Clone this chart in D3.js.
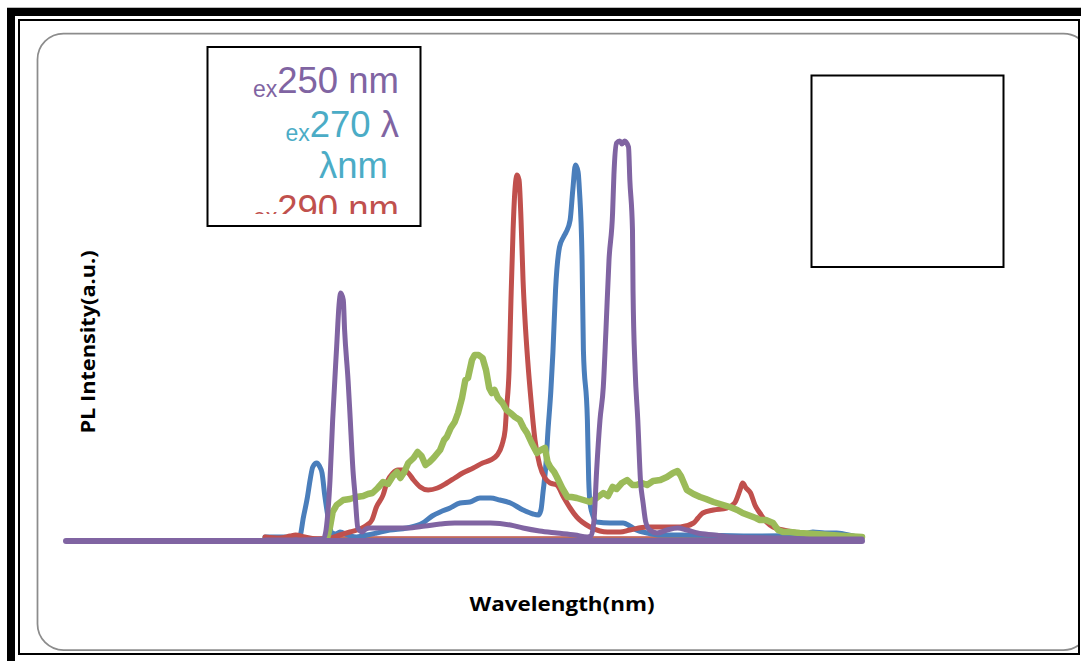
<!DOCTYPE html>
<html>
<head>
<meta charset="utf-8">
<script src="https://cdn.jsdelivr.net/npm/d3@7"></script>
<style>
  html, body { margin: 0; padding: 0; background: #fff; }
  svg { display: block; }
</style>
</head>
<body>
<svg id="chart" width="1081" height="661"></svg>
<script>
// Emission spectra: [wavelength (nm), PL intensity (a.u.)]
const ex270 = [
  [350,10],[369,10],[376,10],[379,60],[382,110],[384,152.5],[386,185],[389,195],[391,187.5],
  [393,170],[395,115],[397,70],[399,32.5],[400.5,20],[403.5,17.5],[406.5,22.5],[412.6,15],
  [419,10],[427,15],[434,20],[444,27.5],[457,32.5],[469,45],[476,62.5],[482,72.5],[489.5,82.5],
  [497,95],[504.5,97.5],[512,107.5],[520,107.5],[527,102.5],[535,95],[544.5,77.5],[552,67.5],
  [556,65],[558,77.5],[559.5,120],[562,202.5],[563,260],[565.5,377.5],[567,470],[569,627.5],
  [572,735],[575,760],[577,772.5],[580,802.5],[582,877.5],[584,940],[586,922.5],[587,877.5],
  [589,702.5],[590,477.5],[593,302.5],[594,152.5],[595,95],[597,65],[600,47.5],[610,45],
  [620,45],[625,37.5],[630,27.5],[638,20],[648,15],[663,15],[723,12.5],[753,15],[763,22.5],
  [772,20],[781,20],[798.5,10],[800,10]
];

const ex290 = [
  [350,10],[361,7.5],[369,12.5],[373,15],[380,10],[391,5],[399,7.5],[406.5,15],[414,22.5],
  [421.6,30],[427,40],[430.6,52.5],[434,85],[439,115],[442,147.5],[446.5,170],[450,177.5],
  [454,177.5],[458,170],[462,152.5],[467,135],[473,127.5],[480,132.5],[487,145],[493,157.5],
  [499,170],[507,182.5],[514,195],[520,202.5],[525,215],[528.6,240],[531,277.5],[532,327.5],
  [534,427.5],[535.4,602.5],[537,777.5],[538.4,877.5],[540,915],[541.5,902.5],[543,802.5],
  [544.5,652.5],[546,552.5],[548,452.5],[550.5,352.5],[553.5,252.5],[557,190],[561,157.5],
  [565,145],[570,140],[575,110],[580,82.5],[585,60],[595,35],[602.5,25],[608,22.5],[617.6,22.5],
  [625,27.5],[638,35],[651.5,35],[663,35],[673,45],[676.4,57.5],[680,70],[688,77.5],[698,82.5],
  [704,95],[708,127.5],[710,145],[712.6,132.5],[716,120],[719.3,90],[723,70],[728,47.5],
  [733,35],[740.5,27.5],[748,22.5],[776,15],[798.5,10],[800,10]
];

const exBroad = [
  [396,5],[397,10],[399,35],[401,72.5],[404,90],[409,102.5],[414,105],[419,110],
  [424,112.5],[427.6,117.5],[431,120],[435,132.5],[439,147.5],[442.7,142.5],[446.5,162.5],
  [449.5,172.5],[452,157.5],[455,172.5],[458,195],[462,207.5],[465,222.5],[468,212.5],
  [471,190],[474,197.5],[477,207.5],[482,227.5],[485,252.5],[487,260],[490,282.5],[493,297.5],
  [495.5,320],[498.5,357.5],[501,402.5],[503,407.5],[506,452.5],[508,465],[511,465],
  [514,457.5],[516.6,427.5],[519,382.5],[521,370],[523,377.5],[525.6,357.5],[529,345],
  [532,327.5],[535,320],[538.4,310],[542,302.5],[545,282.5],[547.5,270],[551,245],[555,220],
  [558,227.5],[561,232.5],[563,197.5],[565,185],[568,172.5],[570,160],[574,132.5],[578,110],
  [581,110],[585,107.5],[590,102.5],[595,97.5],[600,107.5],[605,120],[608.5,112.5],[612,135],
  [615,130],[619,145],[623,152.5],[627,140],[630,140],[634,145],[638,140],[642.5,150],
  [648,152.5],[653,160],[657.5,170],[661,175],[663.5,162.5],[668,127.5],[673,117.5],
  [678,110],[682.4,105],[688,97.5],[693,92.5],[700.5,85],[706,77.5],[710,70],[716,62.5],
  [720,57.5],[723,52.5],[727.6,52.5],[733,45],[736.7,27.5],[740.5,22.5],[745.7,22.5],
  [753,20],[764.6,17.5],[776,15],[787,12.5],[800,10]
];

const ex250 = [
  [350,2.5],[376,2.5],[394,5],[396,27.5],[399,152.5],[401,302.5],[404,485],[405.8,590],
  [407,620],[409,602.5],[410,527.5],[412.6,402.5],[414,320],[416.3,177.5],[418,110],
  [420,32.5],[423,22.5],[426,30],[429,32.5],[436.7,32.5],[444,32.5],[457,32.5],[470.6,37.5],
  [482,42.5],[493,45],[504.5,45],[520,45],[535,40],[544.5,32.5],[557,25],[570,20],[583.7,15],
  [593,10],[595.7,12.5],[598,52.5],[600,177.5],[602.5,302.5],[605,385],[607,527.5],
  [609.3,702.5],[612,820],[613,915],[615,995],[617.4,1000],[619,992.5],[621,1000],[624,985],
  [625,902.5],[627,777.5],[627.4,627.5],[629,427.5],[631,302.5],[633,152.5],[635,95],
  [637,47.5],[640,27.5],[645.5,20],[653,27.5],[661,32.5],[668,27.5],[676,20],[689,15],
  [700.5,10],[738,7.5],[768,5],[800,5]
];

// Zero level across the full scan range
const zeroLine = [[200,0],[800,0]];
// Faint instrument baselines
const baseRed = [[350,10],[800,10]];
const baseGreen = [[348,7.5],[800,7.5]];

const legendRows = [
  { parts: [["ex", "sub", "#8064A2"], ["250 nm", "main", "#8064A2"]] },
  { parts: [["ex", "sub", "#4BACC6"], ["270 ", "main", "#4BACC6"], ["λ", "main", "#8064A2"]] },
  { parts: [["λnm", "main", "#4BACC6"]] },
  { parts: [["ex", "sub", "#C0504D"], ["290 nm", "main", "#C0504D"]] }
];

const xTitle = "Wavelength(nm)";
const yTitle = "PL Intensity(a.u.)";

const svg = d3.select("#chart");

// Page frames
svg.append("rect").attr("x", 11).attr("y", 12).attr("width", 1085).attr("height", 654)
  .attr("fill", "none").attr("stroke", "#000").attr("stroke-width", 8);
svg.append("line").attr("x1", 7).attr("x2", 1081).attr("y1", 7.5).attr("y2", 7.5)
  .attr("stroke", "#bbb").attr("stroke-width", 1);
svg.append("rect").attr("x", 19).attr("y", 20).attr("width", 1060).attr("height", 634)
  .attr("fill", "none").attr("stroke", "#000").attr("stroke-width", 2);

svg.append("clipPath").attr("id", "inner")
  .append("rect").attr("x", 20).attr("y", 21).attr("width", 1058).attr("height", 632);

// Rounded chart area
svg.append("rect").attr("clip-path", "url(#inner)")
  .attr("x", 37.5).attr("y", 33.5).attr("width", 1052).attr("height", 616.5)
  .attr("rx", 26).attr("ry", 26)
  .attr("fill", "none").attr("stroke", "#8c8c8c").attr("stroke-width", 1.75);

// Scales
const x = d3.scaleLinear().domain([200, 800]).range([66, 862]);
const y = d3.scaleLinear().domain([0, 1000]).range([541, 141]);

const smooth = d3.line().x(d => x(d[0])).y(d => y(d[1])).curve(d3.curveMonotoneX);
const jagged = d3.line().x(d => x(d[0])).y(d => y(d[1])).curve(d3.curveLinear);

const plot = svg.append("g");

plot.append("path").datum(baseGreen).attr("d", smooth)
  .attr("fill", "none").attr("stroke", "#9BBB59").attr("stroke-width", 1.5);
plot.append("path").datum(baseRed).attr("d", smooth)
  .attr("fill", "none").attr("stroke", "#C0504D").attr("stroke-width", 1.5);

const series = [
  { data: ex270, color: "#4A7EBB", width: 5, gen: smooth },
  { data: ex290, color: "#C0504D", width: 5, gen: smooth },
  { data: exBroad, color: "#9BBB59", width: 6.5, gen: jagged },
  { data: ex250, color: "#8064A2", width: 5, gen: smooth },
  { data: zeroLine, color: "#8064A2", width: 6, gen: smooth }
];

series.forEach(s => {
  plot.append("path").datum(s.data).attr("d", s.gen)
    .attr("fill", "none").attr("stroke", s.color).attr("stroke-width", s.width)
    .attr("stroke-linejoin", "round").attr("stroke-linecap", "round");
});

// Legend box with its text
svg.append("clipPath").attr("id", "legendClip")
  .append("rect").attr("x", 208).attr("y", 48).attr("width", 212).attr("height", 166);

const legend = svg.append("g");
legend.append("rect").attr("x", 207.5).attr("y", 47).attr("width", 213).attr("height", 179)
  .attr("fill", "#fff").attr("stroke", "#000").attr("stroke-width", 2);

const rowBase = [93, 137, 178, 221];
const rowRight = [399, 399, 388, 399];
const lg = legend.append("g").attr("clip-path", "url(#legendClip)");
legendRows.forEach((row, i) => {
  const t = lg.append("text")
    .attr("x", rowRight[i]).attr("y", rowBase[i])
    .attr("text-anchor", "end")
    .attr("font-family", "'Liberation Sans', Arial, sans-serif");
  let shifted = false;
  row.parts.forEach(p => {
    const ts = t.append("tspan").text(p[0]).attr("fill", p[2]);
    if (p[1] === "sub") {
      ts.attr("font-size", 23).attr("dy", shifted ? 0 : 4);
      shifted = true;
    } else {
      ts.attr("font-size", 36.5).attr("dy", shifted ? -4 : 0);
      shifted = false;
    }
  });
});

// Empty box at the upper right
svg.append("rect").attr("x", 811.5).attr("y", 75.5).attr("width", 192).attr("height", 191.5)
  .attr("fill", "none").attr("stroke", "#000").attr("stroke-width", 2);

// Axis titles
svg.append("text")
  .attr("x", 562).attr("y", 611)
  .attr("text-anchor", "middle")
  .attr("font-family", "'Open Sans', 'Liberation Sans', sans-serif")
  .attr("font-weight", "bold").attr("font-size", 19)
  .attr("textLength", 185).attr("lengthAdjust", "spacingAndGlyphs")
  .attr("fill", "#000")
  .text(xTitle);

svg.append("text")
  .attr("transform", "translate(95,342) rotate(-90)")
  .attr("text-anchor", "middle")
  .attr("font-family", "'Open Sans', 'Liberation Sans', sans-serif")
  .attr("font-weight", "bold").attr("font-size", 19)
  .attr("textLength", 183).attr("lengthAdjust", "spacingAndGlyphs")
  .attr("fill", "#000")
  .text(yTitle);
</script>
</body>
</html>
